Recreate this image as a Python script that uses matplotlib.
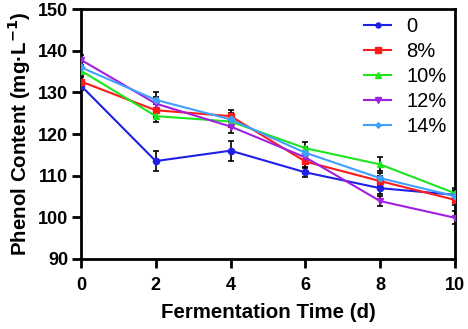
import matplotlib
matplotlib.use("Agg")
import matplotlib.pyplot as plt
from matplotlib.lines import Line2D

days = [0, 2, 4, 6, 8, 10]
labels = ["0", "8%", "10%", "12%", "14%"]
s0 = [131.6, 113.5, 116.0, 110.8, 107.0, 105.4]
s8 = [132.6, 125.7, 124.3, 113.4, 108.7, 104.2]
s10 = [135.2, 124.3, 123.0, 116.6, 112.7, 105.8]
s12 = [137.8, 127.3, 121.8, 114.4, 103.9, 99.9]
s14 = [136.0, 128.2, 123.5, 115.5, 109.4, 105.1]
e0 = [1.0, 2.3, 2.4, 1.2, 1.5, 1.2]
e8 = [1.0, 1.5, 1.5, 1.5, 1.2, 1.2]
e10 = [1.2, 1.5, 1.2, 1.5, 1.7, 1.2]
e12 = [1.2, 1.5, 1.5, 1.5, 1.1, 1.6]
e14 = [1.2, 2.0, 1.5, 1.5, 1.2, 1.2]

series = [s0, s8, s10, s12, s14]
errors = [e0, e8, e10, e12, e14]
colors = ["#1f1fe6", "#ff1a1a", "#1ee61e", "#a020e0", "#3fa0ff"]
markers = ["o", "s", "^", "v", "D"]
msizes = [4.5, 5, 5, 5, 3.5]

plt.rcParams['font.family'] = ['Liberation Sans', 'DejaVu Sans']

fig = plt.figure(figsize=(4.68, 3.29), dpi=100)
ax = fig.add_axes([0.173, 0.2128, 0.799, 0.7598])

handles = []
for y, e, c, m, ms, lab in zip(series, errors, colors, markers, msizes, labels):
    ax.errorbar(days, y, yerr=e, color=c, marker=m, markersize=ms, lw=1.5,
                ecolor="black", elinewidth=1.2, capsize=2.5, capthick=1.2,
                zorder=3)
    handles.append(Line2D([], [], color=c, marker=m, markersize=ms * 0.8, lw=1.5, label=lab))

ax.set_xlim(0, 10)
ax.set_ylim(90, 150)
ax.set_xticks([0, 2, 4, 6, 8, 10])
ax.set_yticks([90, 100, 110, 120, 130, 140, 150])
for sp in ax.spines.values():
    sp.set_linewidth(2.0)
ax.tick_params(direction="out", length=6.5, width=2.0, labelsize=13)
ax.tick_params(axis="x", pad=6.5)
ax.tick_params(axis="y", pad=2.5)
for t in ax.get_xticklabels() + ax.get_yticklabels():
    t.set_fontweight("bold")

ax.set_xlabel("Fermentation Time (d)", fontsize=14.8, fontweight="bold", labelpad=6.5)
ax.set_ylabel("Phenol Content (mg·L$^{\\mathbf{-1}}$)", fontsize=14.8, fontweight="bold", labelpad=4)

leg = ax.legend(handles=handles, loc="upper right", frameon=False, fontsize=14.5,
                handlelength=1.35, handletextpad=0.75, labelspacing=0.3,
                borderaxespad=0.0, bbox_to_anchor=(1.0, 1.0))

fig.savefig("out.png", dpi=100)
